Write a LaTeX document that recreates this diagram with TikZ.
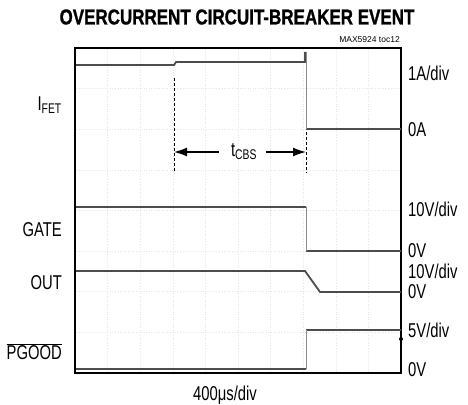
\documentclass[tikz,border=0pt]{standalone}
\usepackage{fontspec}
\setmainfont{Liberation Sans}
\newfontfamily\titlefont[FakeStretch=0.79, FakeBold=1]{Liberation Sans}
\newfontfamily\lblfont[FakeStretch=0.74]{Liberation Sans}
\usetikzlibrary{arrows.meta}

\begin{document}
\begin{tikzpicture}[x=1pt, y=-1pt,
    trace/.style={line width=1.8pt, black!70},
    edgeline/.style={line width=0.5pt, black!45},
    gridline/.style={black!10, line width=0.6pt, dotted},
    marker/.style={thick, dashed, dash pattern=on 3pt off 2pt},
    lbl/.style={font=\lblfont\fontsize{20}{20}\selectfont, inner sep=0pt}]
    \useasboundingbox (0,0) rectangle (468,404);
    \foreach \i in {1,...,9}
        \draw[gridline] ({75+32.6*\i},49) -- ({75+32.6*\i},372);
    \foreach \j in {1,...,7}
        \draw[gridline] (76,{48+40.6*\j}) -- (400,{48+40.6*\j});
    \draw[line width=2pt] (75,48) rectangle (401,373);
    \draw[trace] (76,65) -- (174,65) -- (176,62) -- (305,62) -- (305,52)
          (306,129) -- (401,129)
          (76,207) -- (306,207)
          (306,251) -- (401,251)
          (76,271) -- (305,271) -- (320,292) -- (401,292)
          (76,369) -- (306,369)
          (306,330) -- (401,330);
    \draw[edgeline] (306,52) -- (306,129)
          (306,207) -- (306,251)
          (306,369) -- (306,330);
    \fill (401,339) circle (2pt);
    \draw[marker] (174,78) -- (174,173)
          (306,132) -- (306,173);
    \node (title) at (237,17) {\titlefont\bfseries\fontsize{21.5}{21.5}\selectfont OVERCURRENT CIRCUIT-BREAKER EVENT};
    \node[anchor=east, inner sep=0pt] (tag) at (400,40) {\fontsize{8.5}{8.5}\selectfont MAX5924 toc12};
    \node[lbl] (tcbs) at (244,152) {t\textsubscript{CBS}};
    \coordinate (cl) at (174,152);
    \coordinate (cr) at (306,152);
    \draw[line width=1.4pt, -{Latex[length=13pt, width=9pt]}] (tcbs.west) ++(-12,0) -- (cl);
    \draw[line width=1.4pt, -{Latex[length=13pt, width=9pt]}] (tcbs.east) ++(9,0) -- (cr);
    \node[lbl, anchor=east] (ifet) at (62,105) {I\textsubscript{FET}};
    \node[lbl, anchor=east] (gate) at (62,230) {GATE};
    \node[lbl, anchor=east] (out) at (62,283) {OUT};
    \node[lbl, anchor=east] (pgood) at (62,352) {$\overline{\hbox{PGOOD}}$};
    \node[lbl, anchor=west] (scale1) at (408,73) {1A/div};
    \node[lbl, anchor=west] (zero1) at (408,130) {0A};
    \node[lbl, anchor=west] (scale2) at (408,209) {10V/div};
    \node[lbl, anchor=west] (zero2) at (408,251) {0V};
    \node[lbl, anchor=base west] (scale3) at (408,278) {10V/div};
    \node[lbl, anchor=base west] (zero3) at (408,298) {0V};
    \node[lbl, anchor=west] (scale4) at (408,330) {5V/div};
    \node[lbl, anchor=west] (zero4) at (408,370) {0V};
    \node[lbl] (time) at (225,395) {400μs/div};
\end{tikzpicture}
\end{document}
